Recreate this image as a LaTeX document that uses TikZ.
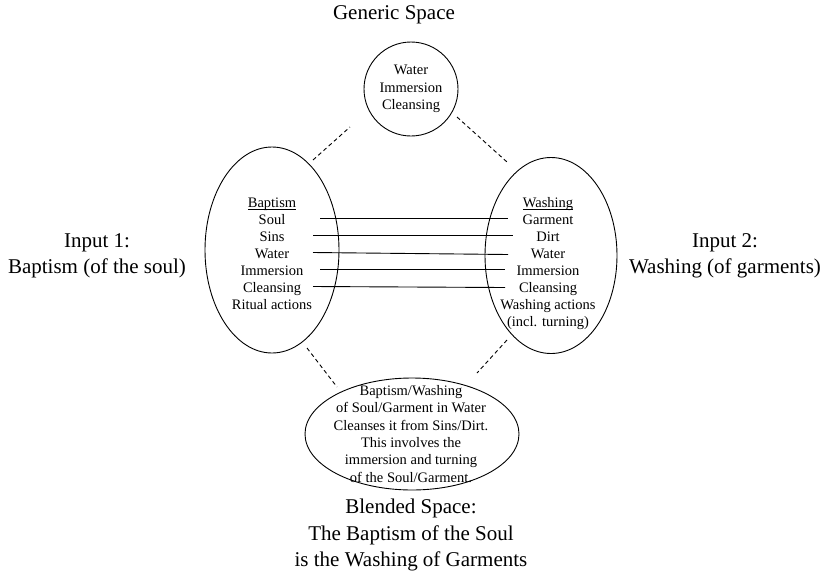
\documentclass[tikz,border=0pt]{standalone}
\usepackage{fontspec}
\setmainfont{Liberation Serif}
\usetikzlibrary{shapes.geometric}
% underline drawn just below the baseline, crossing the descenders
\newcommand{\headword}[1]{\leavevmode\setbox0\hbox{#1}\rlap{\rule[-1.8pt]{\wd0}{0.6pt}}\box0}
\begin{document}
\begin{tikzpicture}[x=1pt,y=-1pt,
  space/.style={draw,line width=0.9pt,ellipse,inner sep=0pt},
  item/.style={anchor=base,inner sep=0pt,font=\fontsize{14.5}{17}\selectfont},
  body/.style={align=center,inner sep=0pt,font=\fontsize{14.5}{17.3}\selectfont},
  caption/.style={align=center,inner sep=0pt,font=\fontsize{21}{26.5}\selectfont},
  link/.style={line width=0.9pt},
  relation/.style={line width=0.9pt,dash pattern=on 4pt off 3pt}]
\useasboundingbox (0,0) rectangle (831,574);

% the four mental spaces
\node[space,circle,minimum size=94pt,body] (gen) at (411,89) {Water\\Immersion\\Cleansing};
\node[space,minimum width=134pt,minimum height=206pt] (inL) at (272,250) {};
\node[space,minimum width=132pt,minimum height=196pt] (inR) at (551,255.5) {};
\node[space,minimum width=214pt,minimum height=112pt] (blend) at (412,434) {};
\node[body] (blendtxt) at (411,434) {Baptism/Washing\\of Soul/Garment in Water\\Cleanses it from Sins/Dirt.\\This involves the\\immersion and turning\\of the Soul/Garment.};

% elements of input 1
\node[item] (lHead)  at (272,207.5) {\headword{Baptism}};
\node[item] (lSoul)  at (272,224.5) {Soul};
\node[item] (lSins)  at (272,241.5) {Sins};
\node[item] (lWater) at (272,258.5) {Water};
\node[item] (lImm)   at (272,275.5) {Immersion};
\node[item] (lClean) at (272,292.5) {Cleansing};
\node[item] (lRit)   at (272,309.5) {Ritual actions};

% elements of input 2
\node[item] (rHead)  at (548,207.5) {\headword{Washing}};
\node[item] (rGarm)  at (548,224.5) {Garment};
\node[item] (rDirt)  at (548,241.5) {Dirt};
\node[item] (rWater) at (548,258.5) {Water};
\node[item] (rImm)   at (548,275.5) {Immersion};
\node[item] (rClean) at (548,292.5) {Cleansing};
\node[item] (rAct)   at (548,309.5) {Washing actions};
\node[item] (rTurn)  at (548,326.5) {(incl. turning)};

% cross-space mappings
\draw[link] ([shift={(48,-6)}]lSoul.base)  -- ([shift={(-40,-6)}]rGarm.base);
\draw[link] ([shift={(41,-6)}]lSins.base)  -- ([shift={(-35,-6)}]rDirt.base);
\draw[link] ([shift={(41,-6)}]lWater.base) -- ([shift={(-40,-4)}]rWater.base);
\draw[link] ([shift={(48,-6)}]lImm.base)   -- ([shift={(-43,-6)}]rImm.base);
\draw[link] ([shift={(41,-6)}]lClean.base) -- ([shift={(-43,-5)}]rClean.base);

% projections between spaces
\draw[relation] ([shift={(41,-90)}]inL.center) -- ([shift={(-61,38)}]gen.center);
\draw[relation] ([shift={(46,28)}]gen.center) -- ([shift={(-44,-93.5)}]inR.center);
\draw[relation] ([shift={(35,98)}]inL.center) -- ([shift={(-75,-47)}]blend.center);
\draw[relation] ([shift={(-44,84.5)}]inR.center) -- ([shift={(65,-61)}]blend.center);

% space labels
\node[caption] (genlabel)   at (394,15)  {Generic Space};
\node[caption] (in1label)   at (97,256)  {Input 1:\\Baptism (of the soul)};
\node[caption] (in2label)   at (725,256) {Input 2:\\Washing (of garments)};
\node[caption] (blendlabel) at (411,535) {Blended Space:\\The Baptism of the Soul\\is the Washing of Garments};
\end{tikzpicture}
\end{document}
